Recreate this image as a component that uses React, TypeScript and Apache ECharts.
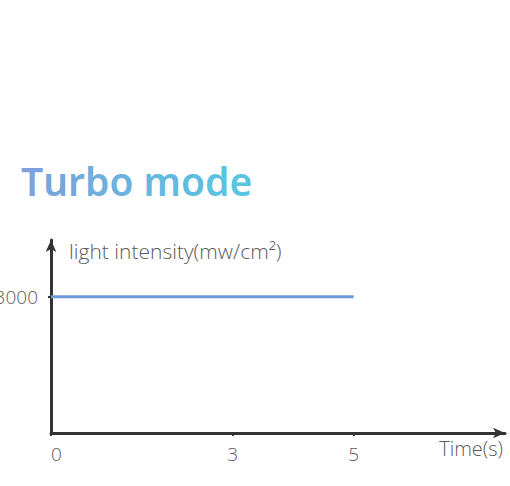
import React, { useEffect, useRef } from "react";
import * as echarts from "echarts";

const titleText = "Turbo mode";
const xTickValues = [0, 3, 5];
const seriesData: [number, number][] = [
  [0, 3000],
  [5, 3000],
];
const yTickValues = [3000];
const xName = "Time(s)";
const yName = "light intensity(mw/cm²)";
const titleColorStart = [0x7b, 0xa2, 0xdc];
const titleColorEnd = [0x59, 0xc5, 0xe0];

function mixColor(t: number) {
  const c = titleColorStart.map((s, i) => Math.round(s + (titleColorEnd[i] - s) * t));
  return `rgb(${c[0]},${c[1]},${c[2]})`;
}

export default function App() {
  const ref = useRef<HTMLDivElement>(null);
  useEffect(() => {
    document.body.style.margin = "0";
    const chart = echarts.init(ref.current!, null, { renderer: "svg" });
    const font = "Open Sans";
    const txt = { fontFamily: font, fontWeight: 300, fontSize: 20, color: "#5a5a5a" };
    const chars = titleText.split("");
    const rich: Record<string, any> = {};
    const parts = chars.map((ch, i) => {
      const key = "c" + i;
      rich[key] = {
        fill: mixColor(i / (chars.length - 1)),
        fontFamily: "Noto Sans",
        fontSize: 39,
        fontWeight: 600,
      };
      return `{${key}|${ch}}`;
    });
    chart.setOption({
      animation: false,
      graphic: [
        {
          type: "text",
          left: 21,
          top: 161,
          style: {
            text: parts.join(""),
            rich,
            fontFamily: "Noto Sans",
            fontSize: 39,
            fontWeight: 600,
          },
        },
      ],
      grid: { left: 51, right: 5, top: 240, bottom: 53, containLabel: false, outerBoundsMode: "none" },
      xAxis: {
        type: "value",
        min: 0,
        max: 7.5,
        name: xName,
        nameLocation: "end",
        nameGap: 0,
        nameTextStyle: {
          ...txt,
          align: "right",
          verticalAlign: "top",
          padding: [5, 2, 0, 0],
        },
        axisLine: {
          show: true,
          lineStyle: { color: "#333", width: 3 },
          symbol: ["none", "arrow"],
          symbolSize: [8, 12],
        },
        axisTick: {
          show: true,
          customValues: xTickValues,
          length: 3,
          lineStyle: { color: "#333", width: 2 },
        },
        axisLabel: {
          ...txt,
          fontSize: 19,
          customValues: xTickValues,
          margin: 11,
          alignMinLabel: "left",
          formatter: (v: number) => String(v),
        },
        splitLine: { show: false },
      },
      yAxis: {
        type: "value",
        min: 0,
        max: 4250,
        name: yName,
        nameLocation: "end",
        nameGap: -11,
        nameTextStyle: {
          ...txt,
          fontSize: 21,
          align: "left",
          verticalAlign: "middle",
          padding: [0, 0, 0, 18],
        },
        axisLine: {
          show: true,
          lineStyle: { color: "#333", width: 3 },
          symbol: ["none", "arrow"],
          symbolSize: [8, 12],
        },
        axisTick: {
          show: true,
          customValues: yTickValues,
          length: 3,
          lineStyle: { color: "#333", width: 2 },
        },
        axisLabel: {
          ...txt,
          fontSize: 19,
          customValues: yTickValues,
          margin: 13,
          formatter: (v: number) => String(v),
        },
        splitLine: { show: false },
      },
      series: [
        {
          type: "line",
          data: seriesData,
          symbol: "none",
          lineStyle: { color: "#6b9ad8", width: 3 },
        },
      ],
    });
    return () => chart.dispose();
  }, []);
  return <div ref={ref} style={{ width: 510, height: 486 }} />;
}
